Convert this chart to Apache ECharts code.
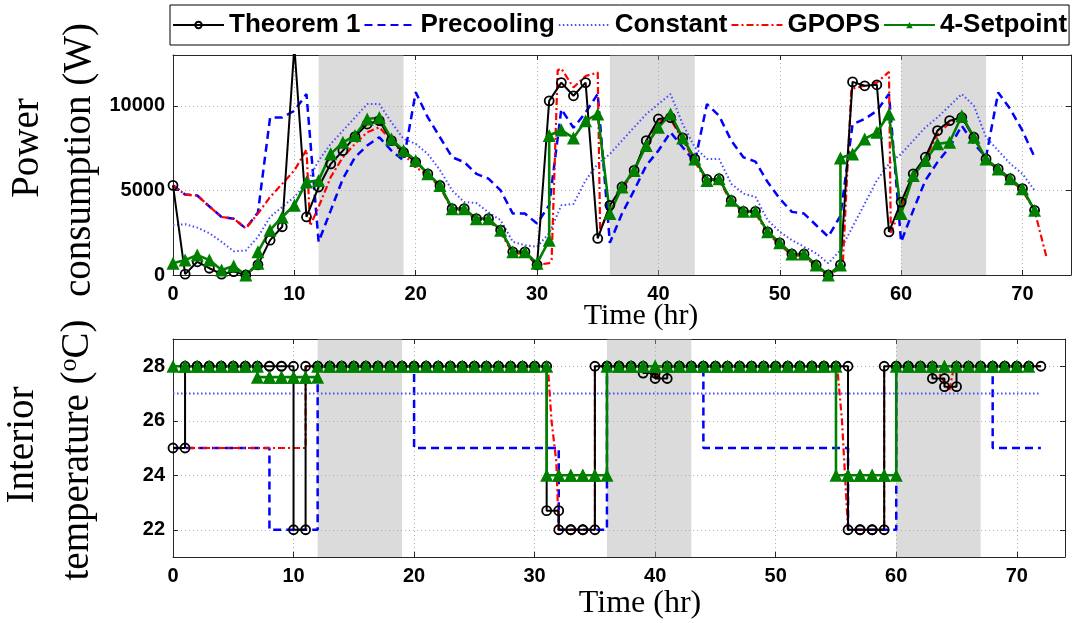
<!DOCTYPE html>
<html>
<head>
<meta charset="utf-8">
<script src="https://cdn.jsdelivr.net/npm/echarts@6/dist/echarts.min.js"></script>
<style>
html, body { margin: 0; padding: 0; background: #fff; }
#container { width: 1081px; height: 623px; }
</style>
</head>
<body>
<div id="container"></div>
<script>
// power consumption (W), one value per hour starting at t = 0
var theoremPower = [5300, 50, 780, 400, 50, 200, 0, 600, 2060, 2850,
    13500, 3430, 5200, 6570, 7350, 8180, 8920, 9120, 7940, 7250,
    6670, 5980, 5290, 3920, 3920, 3330, 3330, 2650, 1370, 1370,
    600, 10290, 11370, 10590, 11370, 2160, 4120, 5200, 6180, 7940,
    9220, 9300, 8100, 6860, 5650, 5690, 4410, 3760, 3760, 2550,
    1900, 1240, 1240, 590, 0, 600, 11410, 11180, 11240, 2550,
    4310, 5980, 6960, 8530, 9120, 9310, 8140, 6860, 6270, 5690,
    5100, 3820];
var precoolPower = [5300, 4750, 4700, 4050, 3430, 3330, 2750, 3700, 9300, 9310,
    9700, 10690, 1960, 3820, 5690, 6960, 7650, 8140, 7350, 6760,
    10800, 9310, 8140, 6960, 6670, 5980, 5690, 5000, 3630, 3630,
    3040, 4120, 9800, 8700, 9600, 10700, 1900, 3630, 5000, 6470,
    7350, 8430, 7550, 6670, 10100, 9410, 7940, 6960, 6700, 5490,
    4510, 3730, 3630, 2940, 2260, 3500, 8900, 9220, 9700, 10690,
    1960, 3820, 5590, 6670, 7550, 8820, 7750, 6960, 10780, 9800,
    8530, 6960];
var constantPower = [2940, 3000, 2800, 2470, 1960, 1400, 1450, 2250, 3430, 4020,
    4610, 5390, 6760, 7750, 8530, 9310, 10100, 10100, 9020, 8040,
    7750, 7150, 6200, 5000, 4310, 4250, 3700, 3240, 1960, 1760,
    1670, 2470, 4120, 4200, 5590, 6570, 7150, 7940, 8730, 9510,
    10100, 10690, 8920, 7550, 6860, 6860, 5390, 4810, 4610, 3240,
    2550, 2060, 1670, 1280, 690, 1470, 2850, 4210, 5590, 6570,
    7150, 7940, 8730, 9310, 10000, 10690, 10000, 8140, 7350, 6570,
    5980, 5000];
var gpopsPowerHours = [0, 1, 2, 3, 4, 5, 6, 7, 8, 9, 10, 11, 11.3, 12, 13, 14, 15, 16, 17, 18,
    19, 20, 21, 22, 23, 24, 25, 26, 27, 28, 29, 30, 31, 31.2, 31.7, 32, 33, 34, 35, 35.2,
    36, 37, 38, 39, 40, 41, 42, 43, 44, 45, 46, 47, 48, 49, 50, 51, 52, 53, 54, 55,
    55.2, 55.9, 56, 57, 58, 59, 59.15, 60, 61, 62, 63, 64, 65, 66, 67, 68, 69, 70, 71, 72];
var gpopsPower = [5300, 4750, 4700, 4050, 3430, 3330, 2750, 3630, 4610, 5390, 6180, 7400, 2900, 4020, 5790, 6960, 7750, 8430, 8730, 7940,
    7150, 6370, 5900, 5200, 3850, 3800, 3250, 3250, 2500, 1300, 1250, 600, 700, 900, 12100, 12200, 11080, 11760, 11960, 2600,
    4020, 5100, 6100, 7900, 9100, 9200, 8000, 6700, 5500, 5600, 4300, 3700, 3650, 2450, 1800, 1150, 1150, 500, 0, 400,
    700, 11000, 11100, 11180, 11370, 12000, 2500, 4000, 5800, 6900, 8300, 9000, 9300, 8100, 6800, 6200, 5600, 5000, 3800, 1000];
var setpointPowerHours = [0, 1, 2, 3, 4, 5, 6, 7, 7, 8, 9, 10, 11, 12, 13, 14, 15, 16, 17, 18,
    19, 20, 21, 22, 23, 24, 25, 26, 27, 28, 29, 30, 31, 31, 32, 33, 34, 35, 36, 37,
    38, 39, 40, 41, 42, 43, 44, 45, 46, 47, 48, 49, 50, 51, 52, 53, 54, 55, 55, 56,
    57, 58, 59, 60, 61, 62, 63, 64, 65, 66, 67, 68, 69, 70, 71];
var setpointPower = [690, 880, 1180, 880, 290, 530, 0, 690, 1370, 2650, 3430, 4120, 5490, 5590, 7160, 7840, 8240, 9220, 9310, 8040,
    7350, 6760, 5980, 5290, 3920, 3920, 3330, 3330, 2650, 1370, 1370, 690, 2060, 8240, 8570, 8100, 9120, 9510, 3630, 5200,
    6180, 7650, 8730, 9510, 8100, 6860, 5590, 5690, 4410, 3760, 3760, 2550, 1900, 1240, 1240, 590, 0, 590, 6920, 7150,
    8040, 8430, 9510, 3630, 5880, 6760, 7750, 7840, 9410, 8140, 6860, 6270, 5690, 5100, 3820];

// interior temperature setpoint (deg C) held over each hour [k, k+1]
var theoremTemp = [25, 28, 28, 28, 28, 28, 28, 28, 28, 28,
    22, 28, 28, 28, 28, 28, 28, 28, 28, 28,
    28, 28, 28, 28, 28, 28, 28, 28, 28, 28,
    28, 22.7, 22, 22, 22, 28, 28, 28, 28, 27.75,
    27.55, 28, 28, 28, 28, 28, 28, 28, 28, 28,
    28, 28, 28, 28, 28, 28, 22, 22, 22, 28,
    28, 28, 28, 27.55, 27.25, 28, 28, 28, 28, 28,
    28, 28];
var precoolTemp = [25, 25, 25, 25, 25, 25, 25, 25, 22, 22,
    22, 22, 28, 28, 28, 28, 28, 28, 28, 28,
    25, 25, 25, 25, 25, 25, 25, 25, 25, 25,
    25, 25, 22, 22, 22, 22, 28, 28, 28, 28,
    28, 28, 28, 28, 25, 25, 25, 25, 25, 25,
    25, 25, 25, 25, 25, 25, 22, 22, 22, 22,
    28, 28, 28, 28, 28, 28, 28, 28, 25, 25,
    25, 25];
var constantTemp = [27, 27, 27, 27, 27, 27, 27, 27, 27, 27,
    27, 27, 27, 27, 27, 27, 27, 27, 27, 27,
    27, 27, 27, 27, 27, 27, 27, 27, 27, 27,
    27, 27, 27, 27, 27, 27, 27, 27, 27, 27,
    27, 27, 27, 27, 27, 27, 27, 27, 27, 27,
    27, 27, 27, 27, 27, 27, 27, 27, 27, 27,
    27, 27, 27, 27, 27, 27, 27, 27, 27, 27,
    27, 27];
var setpointTemp = [28, 28, 28, 28, 28, 28, 28, 27.6, 27.6, 27.6,
    27.6, 27.6, 28, 28, 28, 28, 28, 28, 28, 28,
    28, 28, 28, 28, 28, 28, 28, 28, 28, 28,
    28, 24, 24, 24, 24, 24, 28, 28, 28, 28,
    28, 28, 28, 28, 28, 28, 28, 28, 28, 28,
    28, 28, 28, 28, 28, 24, 24, 24, 24, 24,
    28, 28, 28, 28, 28, 28, 28, 28, 28, 28,
    28];
var gpopsTempHours = [0, 11, 11, 31.1, 31.4, 31.8, 32, 35, 35, 38.8, 39.5, 40, 40.5,
    55.1, 55.5, 56, 59, 59, 63, 63.6, 64.4, 64.8, 72];
var gpopsTemp = [25, 25, 28, 28, 26, 24.5, 22, 22, 28, 28, 27.75, 27.6, 28,
    28, 26, 22, 22, 28, 28, 27.7, 27.1, 28, 28];

// peak price periods (shaded)
var peakPeriods = [[12, 19], [36, 43], [60, 67]];

var hourTicks = [0, 10, 20, 30, 40, 50, 60, 70];
var powerTicks = [0, 5000, 10000];
var tempTicks = [22, 24, 26, 28];

var names = ['Theorem 1', 'Precooling', 'Constant', 'GPOPS', '4-Setpoint'];

function hourly(vals) {
    return vals.map(function (v, i) { return [i, v]; });
}
function pairs(xs, ys) {
    return xs.map(function (x, i) { return [x, ys[i]]; });
}
function stairs(vals) {
    var out = [];
    vals.forEach(function (v, i) { out.push([i, v], [i + 1, v]); });
    return out;
}

var looks = {
    'Theorem 1': { color: '#000', dash: 'solid', width: 2, symbol: 'circle', size: 9, fill: 'rgba(0,0,0,0)', border: 1.8 },
    'Precooling': { color: '#0000ff', dash: [8, 5], width: 2.5 },
    'Constant': { color: '#4a4aff', dash: [1.5, 2.5], width: 2 },
    'GPOPS': { color: '#ff0000', dash: [7, 3, 2, 3], width: 2.2 },
    '4-Setpoint': { color: '#008000', dash: 'solid', width: 2.6, symbol: 'triangle', size: 13, border: 0 }
};

function line(name, data, gi) {
    var s = looks[name];
    return {
        name: name, type: 'line', data: data,
        xAxisIndex: gi * 2, yAxisIndex: gi * 2,
        symbol: s.symbol || 'none', symbolSize: s.size || 0, showSymbol: !!s.symbol,
        lineStyle: { color: s.color, width: s.width, type: s.dash },
        itemStyle: { color: s.fill || s.color, borderColor: s.color, borderWidth: s.border || 0 },
        emphasis: { disabled: true },
        z: 2, animation: false
    };
}

function shade(gi) {
    return {
        type: 'line', name: 'peak' + gi, data: [], xAxisIndex: gi * 2, yAxisIndex: gi * 2,
        z: 3, silent: true, animation: false,
        markArea: {
            silent: true,
            itemStyle: { color: 'rgba(170,170,170,0.42)' },
            data: peakPeriods.map(function (p) { return [{ xAxis: p[0] }, { xAxis: p[1] }]; })
        }
    };
}

var tickFont = { fontSize: 20, fontWeight: 'bold', color: '#000', fontFamily: 'Liberation Sans' };
var frame = { show: true, onZero: false, lineStyle: { color: '#262626', width: 1 } };
function plain(v) { return String(v); }

function xAxisOf(gi, main) {
    return {
        type: 'value', gridIndex: gi, position: main ? 'bottom' : 'top',
        min: 0, max: 74,
        axisLine: frame,
        axisTick: { show: true, inside: true, length: 5, customValues: hourTicks, lineStyle: { color: '#262626' } },
        axisLabel: Object.assign({ show: main, margin: 9, customValues: hourTicks, formatter: plain }, tickFont),
        splitLine: { show: main, lineStyle: { color: '#b0b0b0', type: [1, 3] } }
    };
}
function yAxisOf(gi, main, lo, hi, ticks) {
    return {
        type: 'value', gridIndex: gi, position: main ? 'left' : 'right',
        min: lo, max: hi,
        axisLine: frame,
        axisTick: { show: true, inside: true, length: 5, customValues: ticks, lineStyle: { color: '#262626' } },
        axisLabel: Object.assign({ show: main, margin: 8, customValues: ticks, formatter: plain }, tickFont),
        splitLine: { show: main, lineStyle: { color: '#b0b0b0', type: [1, 3] } }
    };
}

// drawing order: black after red, green on top
var series = [
    line('Precooling', hourly(precoolPower), 0),
    line('Constant', hourly(constantPower), 0),
    line('GPOPS', pairs(gpopsPowerHours, gpopsPower), 0),
    line('Theorem 1', hourly(theoremPower), 0),
    line('4-Setpoint', pairs(setpointPowerHours, setpointPower), 0),
    shade(0),
    line('Precooling', stairs(precoolTemp), 1),
    line('Constant', stairs(constantTemp), 1),
    line('GPOPS', pairs(gpopsTempHours, gpopsTemp), 1),
    line('Theorem 1', stairs(theoremTemp), 1),
    line('4-Setpoint', stairs(setpointTemp), 1),
    shade(1)
];

var serif = '"Liberation Serif", "DejaVu Serif", serif';

function title(txt, x, y, size, rot) {
    return {
        type: 'text', x: x, y: y, rotation: rot ? Math.PI / 2 : 0, silent: true,
        style: {
            text: txt, fill: '#000', fontSize: size, fontFamily: serif,
            align: 'center', verticalAlign: 'middle', textAlign: 'center', textVerticalAlign: 'middle'
        }
    };
}

var tempTitle = title('{n|temperature (}{s|o}{n|C)}', 78, 450, 39, true);
tempTitle.style.rich = {
    n: { fontSize: 39, fontFamily: serif, color: '#000' },
    s: { fontSize: 26, fontFamily: serif, color: '#000', padding: [0, 0, 18, 0] }
};

var legendData = names.map(function (n) {
    return looks[n].symbol ? { name: n } : { name: n, itemStyle: { opacity: 0 } };
});

var myChart = echarts.init(document.getElementById('container'));
myChart.setOption({
    backgroundColor: '#fff',
    animation: false,
    legend: {
        data: legendData, left: 170, top: 5, width: 905, orient: 'horizontal',
        itemWidth: 51, itemHeight: 8, itemGap: 3, padding: [7, 2],
        borderColor: '#000', borderWidth: 1, selectedMode: false,
        textStyle: { fontSize: 26, fontWeight: 'bold', color: '#000', fontFamily: 'Liberation Sans' }
    },
    grid: [
        { left: 173, top: 55, width: 898, height: 220 },
        { left: 173, top: 339, width: 892, height: 218 }
    ],
    xAxis: [xAxisOf(0, true), xAxisOf(0, false), xAxisOf(1, true), xAxisOf(1, false)],
    yAxis: [
        yAxisOf(0, true, 0, 13000, powerTicks), yAxisOf(0, false, 0, 13000, powerTicks),
        yAxisOf(1, true, 21, 29, tempTicks), yAxisOf(1, false, 21, 29, tempTicks)
    ],
    graphic: [
        title('Power', 28, 148, 39, true),
        title('consumption (W)', 80, 160, 39, true),
        title('Interior', 23, 445, 39, true),
        tempTitle,
        title('Time (hr)', 641, 316, 30, false),
        title('Time (hr)', 640, 604, 32, false)
    ],
    series: series
});
</script>
</body>
</html>
